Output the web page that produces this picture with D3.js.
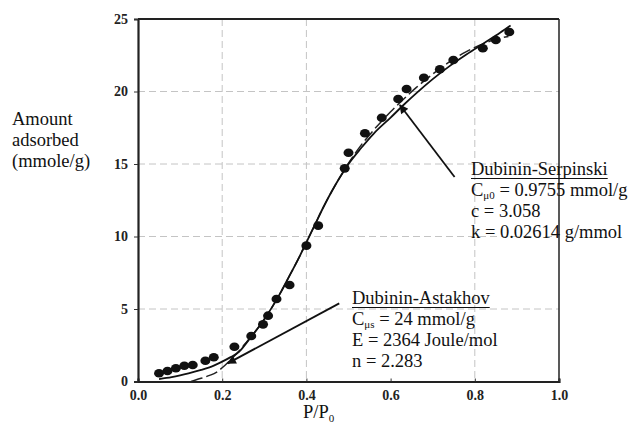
<!DOCTYPE html>
<html>
<head>
<meta charset="utf-8">
<script src="https://cdn.jsdelivr.net/npm/d3@7/dist/d3.min.js"></script>
<style>
  body { margin: 0; background: #fff; }
  svg { font-family: "Liberation Serif", "Times New Roman", serif; }
  .grid line { stroke: #c4c4c4; stroke-width: 1; stroke-dasharray: 7,4; }
  .tick text { font-family: "Liberation Serif", "Times New Roman", serif; font-size: 14px; font-weight: bold; fill: #222; }
  .note { font-size: 18.5px; fill: #111; }
</style>
</head>
<body>
<div id="chart"></div>
<script>
// measured points
var pressure = [0.05, 0.07, 0.09, 0.11, 0.13, 0.16, 0.18, 0.229, 0.269, 0.297, 0.309, 0.329, 0.36,
  0.40, 0.428, 0.491, 0.50, 0.539, 0.579, 0.618, 0.638, 0.679, 0.717, 0.749, 0.819, 0.85, 0.882];
var adsorbed = [0.57, 0.72, 0.91, 1.09, 1.14, 1.43, 1.67, 2.4, 3.14, 3.94, 4.54, 5.69, 6.66,
  9.37, 10.75, 14.7, 15.78, 17.12, 18.19, 19.48, 20.17, 20.95, 21.53, 22.17, 22.98, 23.55, 24.1];

// Dubinin-Astakhov fit (solid)
var daX = [0.05, 0.08, 0.10, 0.12, 0.15, 0.18, 0.20, 0.22, 0.24, 0.26, 0.28, 0.30, 0.32, 0.34, 0.36,
  0.38, 0.40, 0.42, 0.44, 0.46, 0.48, 0.50, 0.53, 0.56, 0.60, 0.63, 0.66, 0.70, 0.74, 0.78, 0.82, 0.86, 0.885];
var daY = [0.17, 0.30, 0.42, 0.56, 0.80, 1.10, 1.37, 1.68, 2.05, 2.75, 3.5, 4.3, 5.2, 6.2, 7.3,
  8.4, 9.6, 10.8, 12.0, 13.1, 14.1, 15.0, 16.1, 17.1, 18.2, 19.05, 19.85, 20.85, 21.75, 22.55, 23.3, 24.05, 24.55];

// Dubinin-Serpinski fit (dashed)
var dsX = [0.126, 0.15, 0.17, 0.186, 0.20, 0.22, 0.24, 0.26, 0.28, 0.30, 0.32, 0.34, 0.36, 0.38, 0.40,
  0.42, 0.44, 0.46, 0.48, 0.50, 0.53, 0.56, 0.60, 0.63, 0.66, 0.70, 0.74, 0.78, 0.82, 0.85, 0.88];
var dsY = [0, 0.22, 0.42, 0.63, 0.95, 1.5, 2.1, 2.8, 3.5, 4.3, 5.2, 6.2, 7.3, 8.4, 9.6,
  10.8, 12.0, 13.1, 14.1, 15.05, 16.3, 17.35, 18.6, 19.45, 20.25, 21.2, 22.05, 22.75, 23.3, 23.6, 23.8];

var xTicks = [0, 0.2, 0.4, 0.6, 0.8, 1.0];
var yTicks = [0, 5, 10, 15, 20, 25];
var xGrid = [0.2, 0.4, 0.8];
var yGrid = [5, 10, 15, 20];

var dsNote = ['Dubinin-Serpinski', 'C|\u03bc0| = 0.9755 mmol/g', 'c = 3.058', 'k = 0.02614 g/mmol'];
var daNote = ['Dubinin-Astakhov', 'C|\u03bcs| = 24 mmol/g', 'E = 2364 Joule/mol', 'n = 2.283'];

var width = 633, height = 428;
var svg = d3.select('#chart').append('svg')
  .attr('width', width)
  .attr('height', height);

var x = d3.scaleLinear().domain([0, 1]).range([138, 559]);
var y = d3.scaleLinear().domain([0, 25]).range([381.5, 19]);

svg.append('defs').append('marker')
  .attr('id', 'head')
  .attr('viewBox', '0 0 10 10')
  .attr('refX', 9).attr('refY', 5)
  .attr('markerWidth', 11).attr('markerHeight', 9)
  .attr('markerUnits', 'userSpaceOnUse')
  .attr('orient', 'auto')
  .append('path').attr('d', 'M0,0L10,5L0,10Z').attr('fill', '#111');

// grid
var grid = svg.append('g').attr('class', 'grid');
grid.selectAll('line.gx').data(xGrid).enter().append('line')
  .attr('class', 'gx')
  .attr('x1', function(d) { return x(d); }).attr('x2', function(d) { return x(d); })
  .attr('y1', y(25)).attr('y2', y(0));
grid.selectAll('line.gy').data(yGrid).enter().append('line')
  .attr('class', 'gy')
  .attr('x1', x(0)).attr('x2', x(1))
  .attr('y1', function(d) { return y(d); }).attr('y2', function(d) { return y(d); });

// frame
svg.append('line').attr('x1', x(0)).attr('x2', x(1)).attr('y1', y(25)).attr('y2', y(25))
  .attr('stroke', '#222').attr('stroke-width', 2);
svg.append('line').attr('x1', x(1)).attr('x2', x(1)).attr('y1', y(25)).attr('y2', y(0))
  .attr('stroke', '#222').attr('stroke-width', 1.5);

// axes
var xAxis = svg.append('g')
  .attr('transform', 'translate(0,' + y(0) + ')')
  .call(d3.axisBottom(x).tickValues(xTicks).tickFormat(d3.format('.1f')).tickSize(-3).tickPadding(9));
var yAxis = svg.append('g')
  .attr('transform', 'translate(' + x(0) + ',0)')
  .call(d3.axisLeft(y).tickValues(yTicks).tickSize(4).tickPadding(6));
[xAxis, yAxis].forEach(function(a) {
  a.attr('font-family', null);
  a.select('.domain').attr('stroke', '#222').attr('stroke-width', 2.2);
  a.selectAll('.tick line').attr('stroke', '#333');
});

// fitted curves
var line = d3.line()
  .x(function(d) { return x(d[0]); })
  .y(function(d) { return y(d[1]); })
  .curve(d3.curveMonotoneX);

svg.append('path')
  .datum(dsX.map(function(v, i) { return [v, dsY[i]]; }))
  .attr('d', line)
  .attr('fill', 'none').attr('stroke', '#222').attr('stroke-width', 1.5)
  .attr('stroke-dasharray', '12,4');

svg.append('path')
  .datum(daX.map(function(v, i) { return [v, daY[i]]; }))
  .attr('d', line)
  .attr('fill', 'none').attr('stroke', '#111').attr('stroke-width', 1.8);

// data points
svg.selectAll('ellipse.pt').data(pressure).enter().append('ellipse')
  .attr('class', 'pt')
  .attr('cx', function(d) { return x(d); })
  .attr('cy', function(d, i) { return y(adsorbed[i]); })
  .attr('rx', 5).attr('ry', 4.3)
  .attr('fill', '#111');

// arrows
var arrows = [
  { from: [0.478, 5.39], to: [0.213, 1.25] },
  { from: [0.752, 14.1], to: [0.622, 19.07] }
];
svg.selectAll('line.arrow').data(arrows).enter().append('line')
  .attr('class', 'arrow')
  .attr('x1', function(d) { return x(d.from[0]); })
  .attr('y1', function(d) { return y(d.from[1]); })
  .attr('x2', function(d) { return x(d.to[0]); })
  .attr('y2', function(d) { return y(d.to[1]); })
  .attr('stroke', '#111').attr('stroke-width', 1.8)
  .attr('marker-end', 'url(#head)');

// annotation blocks
function drawNote(lines, left, top) {
  var g = svg.append('g').attr('class', 'note');
  lines.forEach(function(s, i) {
    var t = g.append('text').attr('x', left).attr('y', top + i * 21);
    var parts = s.split('|');
    t.append('tspan').text(parts[0]);
    if (parts.length > 1) {
      t.append('tspan').attr('dy', 3).attr('font-size', 11).text(parts[1]);
      t.append('tspan').attr('dy', -3).text(parts[2]);
    }
    if (i === 0) {
      var w = t.node().getComputedTextLength();
      g.append('line').attr('x1', left).attr('x2', left + w)
        .attr('y1', top + 3.5).attr('y2', top + 3.5)
        .attr('stroke', '#111').attr('stroke-width', 1.2);
    }
  });
}
drawNote(dsNote, 471, 175);
drawNote(daNote, 352, 304);

// axis titles
var yTitle = ['Amount', 'adsorbed', '(mmole/g)'];
svg.append('g').attr('class', 'note').selectAll('text').data(yTitle).enter().append('text')
  .attr('x', 12)
  .attr('y', function(d, i) { return 125 + i * 21; })
  .text(function(d) { return d; });

var xt = svg.append('text').attr('class', 'note').attr('x', 303).attr('y', 418);
xt.append('tspan').text('P/P');
xt.append('tspan').attr('dy', 4).attr('font-size', 11).text('0');
</script>
</body>
</html>
